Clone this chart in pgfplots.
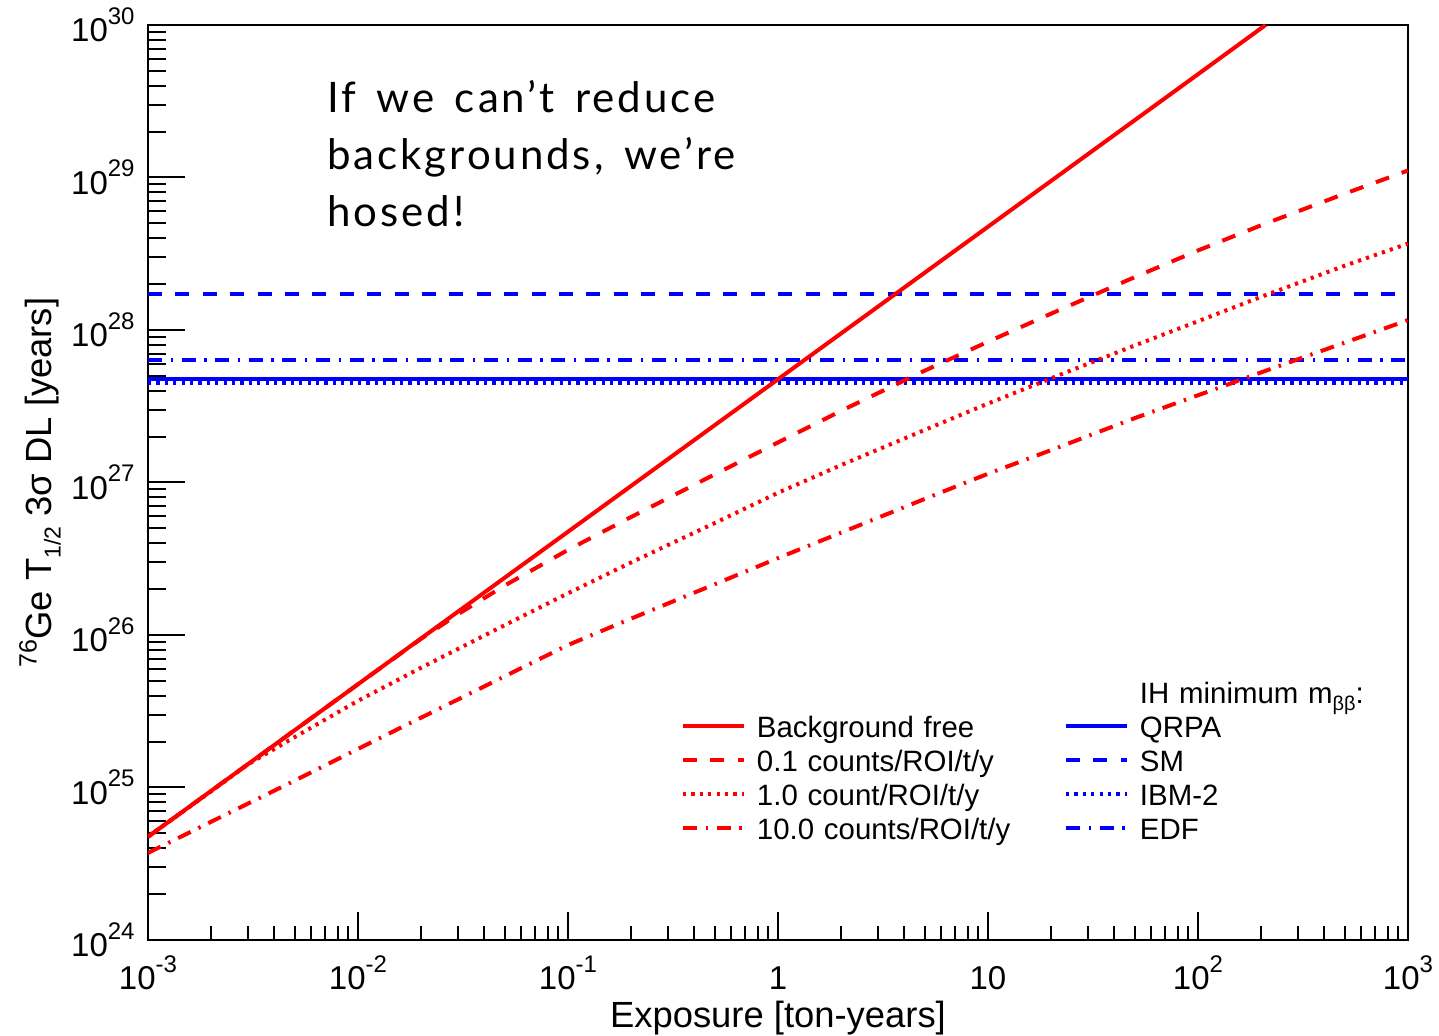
\documentclass[border=0pt]{standalone}
\usepackage{fontspec}
\setmainfont{Liberation Sans}
\newfontfamily\notefont{Lato}[LetterSpace=7, WordSpace=1.5]
\usepackage{pgfplots}
\pgfplotsset{compat=1.18}

% power-of-ten tick labels in the text font
\newcommand\pw[1]{10\raisebox{8.8pt}{\fontsize{12}{12}\selectfont #1}}

\pgfplotsset{
  dsh/.style={dash pattern=on 7pt off 6.7pt},
  dtt/.style={dash pattern=on 1.6pt off 2.6pt},
  dshdt/.style={dash pattern=on 7pt off 4.3pt on 1.2pt off 4.3pt},
}

\begin{document}
\begin{tikzpicture}
\useasboundingbox (-74pt,-48pt) rectangle (645.5pt,470pt);
\begin{axis}[
  at={(0,0)}, anchor=south west,
  scale only axis, width=630pt, height=457.5pt,
  xmode=log, ymode=log,
  xmin=1e-3, xmax=1e3, ymin=1e24, ymax=1e30,
  tick pos=left, tick align=inside,
  axis line style={line width=1.3pt},
  tick style={black, line width=1pt},
  major tick length=18.5pt, minor tick length=9pt,
  xtick style={/pgfplots/major tick length=14pt,/pgfplots/minor tick length=7pt},
  xtick={1e-3,1e-2,1e-1,1,1e1,1e2,1e3},
  ytick={1e24,1e25,1e26,1e27,1e28,1e29,1e30},
  xticklabels={\pw{-3},\pw{-2},\pw{-1},1,10,\pw{2},\pw{3}},
  yticklabels={\pw{24},\pw{25},\pw{26},\pw{27},\pw{28},\pw{29},\pw{30}},
  xticklabel style={anchor=base, inner sep=0pt, yshift=-25pt, font=\fontsize{16.5}{19}\selectfont},
  yticklabel style={anchor=east, inner sep=0pt, xshift=-6.5pt, font=\fontsize{16.5}{19}\selectfont},
  xlabel={Exposure [ton-years]},
  ylabel={\raisebox{7.5pt}{\fontsize{12.5}{12.5}\selectfont 76}Ge T\raisebox{-4.5pt}{\fontsize{11.5}{11.5}\selectfont 1/2} 3σ DL [years]},
  every axis x label/.style={at={(axis description cs:0.5,0)}, anchor=base, yshift=-44pt, font=\fontsize{18.2}{21}\selectfont},
  every axis y label/.style={at={(axis description cs:-0.0857,0.5)}, rotate=90, anchor=center, font=\fontsize{18.2}{21}\selectfont},
  legend columns=2,
  legend cell align=left,
  legend image code/.code={\draw[#1] (0pt,2.2pt) -- (30.5pt,2.2pt);},
  legend style={draw=none, fill=none, inner sep=0pt, outer sep=0pt,
    at={(axis description cs:0.4230,0.2850)}, anchor=north west,
    font=\fontsize{14.7}{17}\selectfont, row sep=0pt,
    nodes={inner sep=1pt, text height=11pt, text depth=4pt},
    /tikz/every odd column/.append style={column sep=4.5pt},
    /tikz/every even column/.append style={text width=127pt, column sep=25.5pt}},
]

% IH minimum half-lives (horizontal reference lines)
\addplot[forget plot, blue, line width=2pt, dtt] coordinates {(1e-3,4.52e27) (1e3,4.52e27)};
\addplot[forget plot, blue, line width=2pt] coordinates {(1e-3,4.75e27) (1e3,4.75e27)};
\addplot[forget plot, blue, line width=2pt, dshdt] coordinates {(1e-3,6.4e27) (1e3,6.4e27)};
\addplot[forget plot, blue, line width=2pt, dsh] coordinates {(1e-3,1.71e28) (1e3,1.71e28)};

% 10.0 counts/ROI/t/y
\addplot[forget plot, red, line width=2pt, dshdt] coordinates {
  (0.001,3.72e24) (0.002,5.96e24) (0.005,1.11e25) (0.01,1.79e25) (0.02,2.87e25)
  (0.05,5.36e25) (0.1,8.59e25) (0.2,1.28e26) (0.5,2.15e26) (1,3.19e26)
  (2,4.69e26) (5,7.80e26) (10,1.14e27) (20,1.63e27) (50,2.64e27)
  (100,3.73e27) (200,5.27e27) (500,8.26e27) (1000,1.16e28)};

% 1.0 count/ROI/t/y
\addplot[forget plot, red, line width=2pt, dtt] coordinates {
  (0.001,4.75e24) (0.002,9.44e24) (0.003,1.42e25) (0.005,2.14e25) (0.01,3.70e25)
  (0.02,6.10e25) (0.05,1.16e26) (0.1,1.875e26) (0.2,2.99e26) (0.5,5.42e26)
  (1,8.55e26) (2,1.30e27) (5,2.21e27) (10,3.29e27) (20,4.82e27)
  (50,7.91e27) (100,1.14e28) (200,1.65e28) (500,2.64e28) (1000,3.68e28)};

% 0.1 counts/ROI/t/y
\addplot[forget plot, red, line width=2pt, dsh] coordinates {
  (0.001,4.75e24) (0.002,9.5e24) (0.005,2.375e25) (0.01,4.75e25) (0.02,9.45e25)
  (0.03,1.37e26) (0.05,2.11e26) (0.1,3.61e26) (0.2,5.94e26) (0.5,1.13e27)
  (1,1.83e27) (2,2.95e27) (5,5.41e27) (10,8.37e27) (20,1.28e28)
  (50,2.22e28) (100,3.32e28) (200,4.86e28) (500,7.83e28) (1000,1.11e29)};

% background free
\addplot[forget plot, red, line width=2pt] coordinates {
  (0.001,4.75e24) (0.01,4.75e25) (0.1,4.75e26) (1,4.75e27)
  (10,4.75e28) (100,4.75e29) (210,1.0e30)};

% legend: left column red sensitivities, right column blue NME models
\addlegendimage{empty legend}\addlegendentry{}
\addlegendimage{empty legend}\addlegendentry{IH minimum m\raisebox{-3.5pt}{\fontsize{10}{10}\selectfont ββ}:}
\addlegendimage{red, line width=2pt}\addlegendentry{Background free}
\addlegendimage{blue, line width=2pt}\addlegendentry{QRPA}
\addlegendimage{red, line width=2pt, dsh}\addlegendentry{0.1 counts/ROI/t/y}
\addlegendimage{blue, line width=2pt, dsh}\addlegendentry{SM}
\addlegendimage{red, line width=2pt, dtt}\addlegendentry{1.0 count/ROI/t/y}
\addlegendimage{blue, line width=2pt, dtt}\addlegendentry{IBM-2}
\addlegendimage{red, line width=2pt, dshdt}\addlegendentry{10.0 counts/ROI/t/y}
\addlegendimage{blue, line width=2pt, dshdt}\addlegendentry{EDF}

\node[anchor=north west, align=left, inner sep=0pt,
      font=\notefont\fontsize{21}{28.5}\selectfont]
  at (rel axis cs:0.142,0.940) {If we can’t reduce\\backgrounds, we’re\\hosed!};
\end{axis}
\end{tikzpicture}
\end{document}
